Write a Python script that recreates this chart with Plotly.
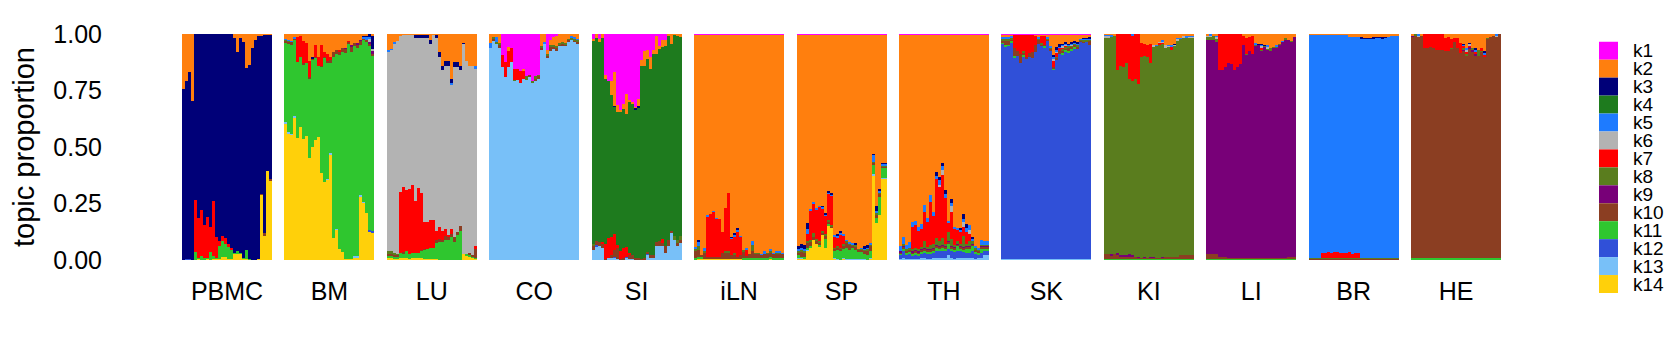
import plotly.graph_objects as go

# ---------------- data ----------------
tissues = ["PBMC", "BM", "LU", "CO", "SI", "iLN", "SP", "TH", "SK", "KI", "LI", "BR", "HE"]
topics = ["k1", "k2", "k3", "k4", "k5", "k6", "k7", "k8", "k9", "k10", "k11", "k12", "k13", "k14"]
topic_colors = ["#FF00FF", "#FF7F0E", "#000078", "#1E7B1E", "#1E7BFF", "#B3B3B3", "#FF0000",
                "#5A7D1E", "#780078", "#8B3E22", "#2FC62F", "#3050D8", "#78C0F8", "#FFD00A"]
n_samples = 30
dominant = {"PBMC": "k3", "BM": "k11", "LU": "k6", "CO": "k13", "SI": "k4", "iLN": "k2", "SP": "k2",
            "TH": "k2", "SK": "k12", "KI": "k8", "LI": "k9", "BR": "k5", "HE": "k10"}

# minor-topic proportions per sample (the dominant topic takes the remainder)
PBMC = {
    "k2": [.245, .21, .17, .296, 0, 0, 0, 0, 0, 0, 0, 0, 0, 0, 0, 0, 0, .017, .08, .017, .034, .15, .137, .06, .026, .005, .005, .003, .003, .003],
    "k7": [0, 0, 0, 0, .232, .175, .206, .145, .18, .112, .243, .093, .025, .025, .025, .015, .005, 0, 0, 0, 0, 0, 0, 0, 0, 0, 0, 0, 0, 0],
    "k10": [0, 0, 0, 0, 0, 0, 0, 0, 0, 0, 0, 0, 0, 0, 0, 0, 0, 0, 0, 0, 0, 0, 0, 0, 0, 0, .005, .013, 0, .01],
    "k11": [0, 0, 0, 0, .034, .005, .017, .005, .005, .034, .015, .005, .055, .07, .06, .055, .045, .005, .01, .005, .003, .04, .005, 0, 0, 0, 0, 0, 0, 0],
    "k12": [.002, .003, .003, 0, 0, 0, 0, 0, 0, 0, 0, 0, 0, 0, 0, 0, 0, 0, 0, 0, 0, 0, 0, 0, 0, 0, 0, 0, 0, 0],
    "k14": [0, 0, 0, 0, 0, .005, 0, .003, .005, 0, .003, .005, .005, .012, .012, .003, .003, .028, .028, .028, .005, .005, 0, 0, 0, .004, .288, .107, .395, .35],
}
BM = {
    "k2": [.02, .025, .03, .015, .015, .01, .03, .04, .12, .1, .05, .1, .05, .08, .09, .1, .08, .07, .07, .06, .06, .03, .05, .04, .04, .025, .005, .005, 0, .005],
    "k3": [0, 0, 0, 0, 0, 0, 0, 0, 0, .01, 0, 0, 0, 0, 0, 0, 0, 0, 0, 0, 0, 0, 0, 0, 0, 0, .005, .01, .015, .06],
    "k5": [.005, .003, .003, .003, 0, 0, 0, 0, 0, 0, 0, 0, 0, 0, 0, 0, 0, 0, 0, 0, 0, 0, 0, 0, 0, 0, .01, .01, .005, 0],
    "k6": [0, 0, 0, 0, 0, 0, 0, 0, 0, 0, 0, 0, 0, 0, 0, 0, 0, 0, 0, 0, 0, 0, 0, 0, 0, 0, 0, 0, .015, .01],
    "k7": [0, 0, 0, 0, .107, .09, .1, .09, .07, 0, .05, .04, .09, .02, .03, .015, 0, 0, .01, 0, 0, .005, 0, 0, 0, 0, 0, 0, 0, 0],
    "k8": [.005, .005, 0, 0, 0, 0, 0, 0, 0, 0, 0, 0, 0, 0, 0, 0, 0, 0, 0, 0, 0, 0, 0, 0, 0, 0, 0, 0, 0, 0],
    "k9": [0, 0, 0, 0, 0, 0, 0, 0, 0, 0, 0, 0, 0, 0, 0, 0, 0, 0, 0, 0, .005, 0, .005, 0, .005, .005, 0, 0, .01, .015],
    "k10": [.01, .01, .015, .01, 0, 0, .005, 0, .005, .005, .005, 0, .005, .005, .01, .015, .02, .02, .015, .02, .02, .005, .025, .015, .015, .02, .005, .01, .005, .005],
    "k12": [0, 0, 0, 0, 0, 0, 0, 0, 0, 0, 0, 0, 0, 0, 0, 0, 0, 0, 0, 0, 0, 0, 0, 0, 0, 0, 0, 0, .01, .01],
    "k13": [.004, .004, .003, .004, 0, 0, 0, 0, 0, 0, 0, 0, 0, 0, .004, .004, 0, .003, 0, 0, 0, 0, 0, .003, .003, .004, .004, 0, 0, 0],
    "k14": [.605, .561, .554, .631, .541, .588, .536, .549, .451, .498, .532, .545, .386, .343, .356, .468, .099, .133, .047, .034, .004, .004, .004, .013, .013, .283, .253, .206, .124, .12],
}
LU = {
    "k2": [.07, .065, .035, .03, .005, .002, .002, .002, .002, .002, .002, .002, .002, .002, .025, .002, .002, .08, .14, .12, .12, .2, .125, .125, .14, .04, .12, .14, .14, .14],
    "k3": [0, 0, 0, 0, 0, 0, 0, 0, 0, .015, .015, .015, .015, .015, .02, 0, .015, .02, .02, .02, .02, .015, .02, .02, .02, .002, 0, 0, 0, 0],
    "k5": [.008, .005, .005, 0, 0, 0, 0, 0, 0, 0, 0, 0, 0, 0, 0, 0, 0, 0, 0, 0, 0, .01, 0, 0, 0, 0, 0, 0, 0, .015],
    "k7": [0, 0, 0, 0, .27, .29, .27, .29, .3, .23, .29, .25, .12, .12, .12, .12, .04, .05, .04, .03, .01, .02, 0, 0, 0, 0, 0, 0, 0, .01],
    "k8": [.01, .01, .01, .005, 0, 0, 0, 0, 0, 0, 0, 0, 0, 0, 0, 0, 0, 0, 0, 0, 0, 0, 0, 0, 0, 0, 0, 0, 0, 0],
    "k10": [.01, .01, .01, .01, 0, .005, 0, 0, 0, 0, 0, .005, .005, 0, 0, 0, .015, .015, .01, .015, .01, .015, .02, .015, .02, 0, 0, .01, .005, .04],
    "k11": [.005, .005, .005, .005, .02, .02, .03, .02, .02, .02, .02, .03, .04, .045, .05, .05, .07, .08, .08, .09, .09, .1, .08, .11, .13, 0, .005, .005, .005, .005],
    "k13": [.003, .003, .003, .003, 0, 0, 0, 0, 0, 0, 0, 0, 0, 0, 0, 0, 0, 0, 0, 0, 0, 0, 0, 0, 0, 0, 0, 0, 0, 0],
    "k14": [.01, .01, .005, .005, .01, .01, .01, .005, .01, .01, .01, .01, .005, .005, .005, .005, .005, 0, 0, 0, 0, 0, 0, 0, 0, .025, .02, .015, .01, .005],
}
CO = {
    "k1": [0, 0, 0, 0, .094, .125, .056, .064, .155, .155, .163, .155, .185, .18, .206, .185, .18, 0, 0, .07, .025, .015, .01, 0, 0, 0, 0, 0, 0, 0],
    "k2": [.04, .015, .015, .04, 0, 0, .02, 0, 0, 0, 0, .01, 0, 0, 0, 0, 0, .055, .035, .02, .025, .035, .045, .04, .035, .04, .02, .01, .015, .02],
    "k5": [.02, 0, .02, 0, 0, 0, 0, 0, 0, 0, 0, 0, 0, 0, 0, 0, 0, 0, .01, 0, 0, 0, 0, 0, 0, 0, 0, .005, .005, .005],
    "k7": [0, 0, 0, 0, .05, .064, .07, .06, .047, .047, .055, .035, 0, 0, 0, 0, 0, 0, 0, 0, 0, 0, 0, 0, 0, 0, 0, 0, 0, 0],
    "k8": [0, .005, .005, .01, 0, 0, 0, 0, .005, 0, 0, 0, .02, 0, .01, .015, .005, .005, 0, .005, .005, .005, .005, .005, .005, .005, .005, .01, .01, .01],
    "k10": [0, .01, 0, .01, 0, 0, 0, 0, 0, 0, 0, 0, 0, .01, 0, .01, .015, .01, 0, .01, .02, .01, .015, .01, .015, .01, .01, 0, .005, .005],
}
SI = {
    "k1": [.02, 0, .02, 0, .18, .21, .206, .167, .313, .335, .309, .266, .292, .3, .322, .288, .116, .077, .069, .103, .07, .01, .051, .026, .026, 0, 0, 0, 0, 0],
    "k2": [.013, .017, .017, .017, .017, 0, .064, .15, .03, .01, .025, .086, .01, .01, .005, .03, .026, .064, .043, .05, .017, .077, .017, .03, .026, .008, .043, .003, .008, .013],
    "k3": [0, 0, 0, 0, 0, 0, 0, .005, 0, 0, 0, 0, 0, 0, .005, .008, 0, 0, 0, 0, 0, 0, 0, 0, 0, 0, 0, 0, 0, 0],
    "k7": [0, 0, 0, .01, .065, .086, .08, .07, .01, .034, .043, .043, .005, 0, 0, 0, 0, 0, 0, 0, 0, 0, 0, .017, 0, 0, 0, 0, 0, 0],
    "k8": [.01, 0, 0, 0, 0, 0, 0, 0, 0, 0, 0, 0, 0, 0, 0, 0, 0, 0, 0, 0, 0, 0, 0, 0, 0, 0, 0, .017, .015, .02],
    "k10": [.015, .02, .02, .015, .005, 0, .01, .03, .05, .005, .01, 0, .02, .015, .01, .01, .005, .01, .005, .01, .01, .02, .02, .01, .03, .025, .005, 0, .01, .01],
    "k12": [0, .005, 0, 0, 0, 0, 0, .005, 0, 0, 0, .005, 0, 0, 0, 0, 0, 0, .003, 0, 0, 0, 0, 0, 0, 0, .003, 0, 0, 0],
    "k13": [.045, .06, .06, .055, 0, .01, .01, .01, .005, 0, 0, .01, .005, .005, 0, 0, 0, 0, .026, .01, .01, .06, .064, .064, .03, .064, .12, .09, .064, .077],
}
iLN = {
    "k1": [.003] * 30,
    "k3": [0, .005, 0, 0, 0, 0, 0, 0, 0, 0, 0, 0, .005, .005, .01, 0, 0, 0, 0, 0, 0, 0, 0, 0, 0, 0, 0, 0, 0, 0],
    "k5": [.01, .02, 0, .015, .005, 0, .005, .005, 0, 0, 0, 0, .005, .01, .01, .005, 0, .005, 0, .015, 0, 0, .005, .01, 0, .005, .005, .005, .005, .005],
    "k7": [0, 0, 0, 0, .18, .19, .2, .17, .17, .09, .19, .26, .07, .07, .11, .08, 0, .03, 0, 0, 0, 0, 0, 0, 0, 0, 0, 0, 0, 0],
    "k8": [.01, .02, 0, .005, 0, 0, 0, 0, 0, 0, .005, .005, 0, .01, 0, 0, .005, 0, 0, .03, .005, .005, 0, 0, .005, .01, 0, .005, .005, 0],
    "k10": [.03, .03, .01, .03, .01, .01, .01, .01, .01, .03, .03, .03, .02, .02, .01, .02, .03, .01, .02, .03, .02, .02, .015, .02, .02, .02, .02, .02, .02, .02],
    "k11": [.005, .01, .01, 0, 0, 0, 0, 0, 0, 0, 0, 0, 0, 0, 0, 0, .005, .005, .005, .005, .005, .005, .005, .005, .005, .01, .005, .005, .005, .005],
    "k14": [.003] * 30,
}
SP = {
    "k1": [.003] * 30,
    "k3": [.013, .015, .015, .03, 0, 0, 0, 0, .005, .01, .005, .005, 0, .01, .01, 0, 0, 0, 0, .01, 0, 0, .01, .01, 0, .005, .02, .01, .005, .005],
    "k5": [.01, .01, .01, .02, .005, .005, .005, .005, .005, .005, .005, .005, .005, .005, .005, .005, .005, .005, .005, 0, 0, .005, .005, .005, .005, .03, .01, .005, .005, .005],
    "k7": [0, 0, 0, .03, .13, .13, .13, .15, .1, .08, .12, .13, .05, .04, .06, .04, 0, 0, 0, 0, 0, 0, 0, 0, 0, 0, 0, 0, 0, 0],
    "k8": [.01, .01, .01, .01, .01, .02, .01, .01, .01, .01, .005, .005, .005, .005, .005, .01, .01, .01, .005, .005, .005, .005, .005, .01, .01, .005, .01, .01, .005, .005],
    "k10": [.01, .02, .015, .02, .02, .01, .015, .01, .01, .01, .01, .01, .01, .01, .01, .01, .02, .02, .01, .015, .01, .01, .015, .02, .02, .01, .01, .01, .01, .01],
    "k11": [.01, .005, .01, .01, .005, 0, 0, .005, 0, .04, .01, 0, .03, .04, .04, .04, .05, .04, .05, .04, .03, .03, .02, .02, .03, .04, .025, .08, .04, .04],
    "k13": [.005, .005, 0, .005, 0, 0, 0, 0, 0, 0, 0, 0, .005, .005, 0, .005, .005, .005, .005, .005, .005, .005, .005, 0, .005, .01, 0, 0, .005, .005],
    "k14": [.005, .005, .005, .04, .055, .09, .07, .06, .11, .055, .15, .14, .005, 0, 0, .005, 0, 0, 0, 0, 0, 0, 0, 0, .005, .37, .163, .2, .36, .36],
}
TH = {
    "k1": [.003] * 30,
    "k3": [0, 0, 0, 0, 0, 0, 0, 0, 0, 0, 0, 0, .015, .015, .01, .015, 0, .015, 0, 0, .01, .02, .015, 0, .01, 0, 0, 0, 0, 0],
    "k5": [.025, .03, .02, .025, .02, .02, .02, .02, .03, .02, .03, .02, .015, .02, .02, .02, .01, .015, .01, .01, .01, .015, .02, .02, .01, .01, .005, .02, .015, .015],
    "k6": [0, 0, 0, 0, 0, 0, 0, 0, 0, 0, 0, 0, 0, .01, .02, 0, 0, .025, 0, 0, 0, .02, 0, .02, 0, 0, 0, 0, 0, 0],
    "k7": [0, 0, 0, 0, .1, .1, .08, .08, .13, .11, .19, .12, .26, .24, .28, .2, .04, .12, .07, .05, .05, .04, .05, .03, 0, 0, 0, 0, 0, 0],
    "k8": [0, .01, .005, .005, .01, .01, .01, .01, .03, .01, .02, .02, .03, .02, .03, .01, .04, .03, .01, .01, .01, .05, .01, .02, .01, .005, .005, .005, .005, .005],
    "k9": [.003] * 30,
    "k10": [.005, .01, .01, .01, .01, .01, .01, .01, .01, .01, .01, .01, .01, .01, .01, .01, .01, .01, .01, .01, .01, .01, .01, .01, .01, .01, .01, .01, .01, .01],
    "k11": [.005, .01, .005, .01, .005, .005, .005, .01, .01, .01, .01, .01, .015, .01, .015, .01, .02, .01, .01, .02, .01, .01, .02, .02, .02, .01, .01, .02, .01, .01],
    "k12": [.02, .03, .02, .02, .015, .02, .015, .015, .02, .02, .02, .02, .03, .03, .03, .03, .03, .03, .03, .03, .03, .025, .02, .02, .03, .02, .01, .02, .02, .02],
    "k13": [.005, .01, .005, .005, .005, .005, .005, .01, .01, .005, .005, .01, .01, .01, .01, .01, .02, .01, .005, .01, .01, .01, .01, .01, .01, .005, .01, .01, .02, .02],
}
SK = {
    "k1": [.003] * 30,
    "k2": [.01, .01, .01, .005, 0, 0, 0, 0, 0, 0, 0, .005, .01, .005, .005, .01, .05, .09, .055, .043, .04, .034, .04, .034, .03, .034, .017, .013, .013, .01],
    "k3": [0, 0, 0, 0, 0, 0, 0, 0, 0, 0, 0, 0, 0, 0, 0, 0, 0, .01, .013, .008, .005, .005, .005, .005, .005, .005, 0, .005, .005, .005],
    "k5": [.01, .01, .01, .01, 0, 0, 0, 0, 0, 0, 0, 0, .005, 0, 0, .005, .005, .005, .005, .01, .005, .005, .005, .005, .005, .005, .005, .005, .005, .005],
    "k6": [0, 0, 0, 0, 0, 0, 0, 0, 0, 0, 0, 0, 0, 0, 0, 0, 0, .01, .01, 0, .005, .005, 0, .005, 0, 0, 0, 0, 0, 0],
    "k7": [0, 0, 0, 0, .06, .07, .086, .07, .1, .08, .077, .04, 0, .03, .04, 0, 0, .03, .015, .013, .01, .005, 0, 0, 0, 0, 0, 0, 0, 0],
    "k8": [.005, .01, .005, .005, 0, 0, 0, .01, 0, 0, 0, 0, .005, .01, 0, .005, .005, 0, .005, 0, .005, .005, .01, .005, .005, .01, .005, .005, .005, .005],
    "k10": [.01, .015, .02, .01, .034, .026, .04, .01, .005, .02, .026, .03, .02, .005, .005, .01, .01, .005, .01, .01, .01, .01, .01, .01, .01, .01, .005, .005, 0, .02],
    "k11": [.005, .01, .005, .005, .005, 0, 0, .01, 0, 0, 0, 0, 0, 0, .01, 0, 0, .005, 0, 0, .01, .005, .01, .005, .005, 0, 0, 0, 0, 0],
    "k13": [.003] * 30,
}
KI = {
    "k2": [.002, .002, .002, .005, 0, 0, 0, 0, 0, 0, 0, 0, .04, .043, .05, .043, .047, .047, .034, .026, .047, .047, .05, .043, .017, .017, .01, .01, .005, .005],
    "k3": [0, 0, 0, 0, 0, 0, 0, 0, 0, 0, 0, 0, 0, 0, 0, 0, 0, 0, 0, 0, 0, 0, 0, .005, 0, 0, 0, 0, 0, 0],
    "k5": [.005, .005, .01, 0, 0, 0, 0, 0, 0, .008, 0, 0, 0, 0, 0, 0, 0, .005, 0, .005, 0, .005, .005, 0, .005, .005, 0, .005, .005, .005],
    "k6": [.01, .01, 0, 0, 0, 0, 0, 0, 0, 0, 0, 0, 0, 0, 0, 0, .01, 0, .005, .005, .013, .005, 0, .005, .005, 0, .005, 0, .005, .005],
    "k7": [0, 0, 0, 0, .16, .14, .145, .13, .2, .2, .2, .22, .06, .055, .05, .086, 0, 0, .01, .01, 0, 0, .014, 0, 0, 0, 0, 0, 0, 0],
    "k9": [0, 0, .005, 0, .005, .005, .005, .005, .01, .005, 0, .005, 0, .005, 0, .005, .005, 0, 0, .005, 0, 0, 0, 0, 0, 0, 0, 0, 0, 0],
    "k10": [.02, .02, .015, .02, .02, .01, .01, .01, .01, .01, .01, .005, .005, .005, .005, .005, .005, .005, .005, .005, .01, .01, .01, .01, .01, .015, .015, .015, .015, .015],
    "k11": [.003] * 30,
    "k13": [.002] * 30,
}
LI = {
    "k2": [.005, 0, .005, .005, 0, 0, 0, 0, 0, 0, 0, 0, .005, .017, .013, .01, .04, .043, .043, .047, .05, .06, .056, .05, .043, .03, .017, .026, .03, .013],
    "k3": [0, 0, 0, 0, 0, 0, 0, 0, 0, 0, 0, 0, 0, 0, 0, 0, 0, .005, .005, .005, 0, 0, 0, 0, 0, 0, 0, 0, 0, 0],
    "k5": [0, .005, 0, .005, 0, 0, 0, 0, 0, 0, 0, 0, 0, 0, 0, 0, .005, 0, .005, 0, .005, 0, 0, .005, 0, .005, 0, 0, 0, 0],
    "k6": [.005, .01, 0, .01, 0, 0, 0, 0, 0, 0, 0, 0, 0, 0, 0, 0, 0, 0, .01, 0, .008, 0, 0, 0, 0, 0, 0, 0, 0, 0],
    "k7": [0, 0, 0, 0, .16, .16, .146, .129, .133, .16, .146, .133, .043, .07, .06, .077, 0, 0, .005, 0, 0, 0, 0, 0, 0, 0, 0, 0, 0, 0],
    "k8": [.015, .01, .02, .015, 0, 0, 0, 0, 0, 0, 0, 0, 0, .005, 0, 0, .005, 0, .005, .005, .005, .013, .005, .005, .005, 0, .008, 0, .005, 0],
    "k10": [.02, .02, .02, .02, .01, .01, .01, .005, .005, .005, .005, .005, .005, .005, .005, .005, .005, .005, .005, .005, .005, .005, .005, .005, .005, .005, .005, .01, .01, .01],
    "k11": [.003] * 30,
    "k13": [.002] * 30,
}
BR = {
    "k2": [.003, .003, .003, .003, .003, .003, .003, .003, .003, .003, .003, .003, .003, .012, .015, .012, .012, .015, .017, .017, .017, .015, .012, .012, .015, .012, .012, .01, .01, .005],
    "k3": [0, 0, 0, 0, 0, 0, 0, 0, 0, 0, 0, 0, 0, 0, 0, 0, 0, .003, .003, .003, .003, .003, .003, .003, .003, .003, 0, 0, 0, 0],
    "k7": [0, 0, 0, 0, .02, .02, .025, .02, .025, .025, .02, .02, .02, .025, .015, .02, .02, 0, 0, 0, 0, 0, 0, 0, 0, 0, 0, 0, 0, 0],
    "k8": [.003] * 30,
    "k10": [.005] * 30,
    "k11": [.003] * 30,
}
HE = {
    "k2": [.005, 0, 0, .01, 0, 0, 0, 0, 0, 0, 0, .017, .013, .021, .017, .017, .039, .043, .06, .039, .064, .06, .069, .064, .073, .017, .013, .009, 0, 0],
    "k3": [0, 0, 0, 0, 0, 0, 0, 0, 0, 0, 0, 0, 0, 0, 0, 0, 0, .005, 0, .005, 0, .01, 0, 0, .01, 0, 0, 0, 0, 0],
    "k5": [0, 0, .005, 0, 0, 0, 0, 0, 0, 0, 0, 0, 0, 0, 0, 0, 0, .005, .01, 0, 0, .01, 0, 0, .01, 0, 0, 0, .005, 0],
    "k6": [0, 0, .005, 0, 0, 0, 0, 0, 0, 0, 0, 0, 0, 0, 0, 0, 0, 0, .01, .005, 0, 0, 0, 0, 0, 0, 0, 0, .005, 0],
    "k7": [0, 0, 0, 0, .06, .06, .056, .06, .07, .07, .07, .056, .06, .04, .017, .047, .047, .01, .01, .01, 0, .01, 0, .01, .01, 0, 0, 0, 0, 0],
    "k8": [0, .01, 0, 0, 0, 0, 0, 0, 0, 0, 0, 0, 0, .005, 0, 0, 0, .005, .005, 0, .005, 0, .03, .005, 0, .005, 0, 0, 0, 0],
    "k9": [.01, 0, 0, 0, 0, 0, 0, 0, 0, 0, 0, 0, 0, 0, 0, 0, 0, .005, 0, .005, .008, .005, 0, 0, 0, 0, 0, 0, 0, 0],
    "k11": [.005] * 30,
    "k14": [.003] * 30,
}
minor = {"PBMC": PBMC, "BM": BM, "LU": LU, "CO": CO, "SI": SI, "iLN": iLN, "SP": SP,
         "TH": TH, "SK": SK, "KI": KI, "LI": LI, "BR": BR, "HE": HE}

# ---------------- build proportions ----------------
props = {}
for t in tissues:
    comp = {k: list(v) for k, v in minor[t].items()}
    dom = [max(0.0, 1.0 - sum(comp[k][j] for k in comp)) for j in range(n_samples)]
    comp[dominant[t]] = dom
    props[t] = comp

# ---------------- layout geometry (px, target positions minus page margin) ----------------
W, H = 1680, 360
off = 8
plot_l, plot_r, plot_t, plot_b = 103 - off, 1501 - off, 27 - off, 260 - off
bar_px = 3.0
panel_pitch = 102.42 / bar_px      # in bar units
first_bar_left = 182 - off
x_min = -0.5 - (first_bar_left - plot_l) / bar_px
x_max = x_min + (plot_r - plot_l) / bar_px

xs = []
for i, t in enumerate(tissues):
    xs += [i * panel_pitch + j for j in range(n_samples)]

fig = go.Figure()
for k, col in reversed(list(zip(topics, topic_colors))):
    ys = []
    for t in tissues:
        ys += props[t].get(k, [0.0] * n_samples)
    fig.add_trace(go.Bar(x=xs, y=ys, name=k, marker=dict(color=col, line=dict(width=0)),
                         showlegend=False))

font_family = "Liberation Sans, Arial, Helvetica, sans-serif"
centers = [i * panel_pitch + (n_samples - 1) / 2 for i in range(len(tissues))]

fig.update_layout(
    width=W, height=H, barmode="stack", bargap=0,
    paper_bgcolor="white", plot_bgcolor="white",
    margin=dict(l=plot_l, r=W - plot_r, t=plot_t, b=H - plot_b),
    font=dict(family=font_family, color="black"),
    xaxis=dict(range=[x_min, x_max], tickvals=centers, ticktext=tissues, showgrid=False,
               zeroline=False, showline=False, ticks="", tickfont=dict(size=25),
               ticklabelstandoff=14),
    yaxis=dict(range=[0, 1], tickvals=[0, .25, .5, .75, 1],
               ticktext=["0.00", "0.25", "0.50", "0.75", "1.00"], showgrid=False,
               zeroline=False, showline=False, ticks="", tickfont=dict(size=25),
               title=dict(text="topic proportion", font=dict(size=29), standoff=10)),
)

# manual legend
pw = plot_r - plot_l
ph = plot_b - plot_t
def px_x(p):
    return (p - off - plot_l) / pw
def px_y(p):
    return 1 - (p - off - plot_t) / ph

step = 18.5
for i, (k, col) in enumerate(zip(topics, topic_colors)):
    y0 = 35 + step * i
    y1 = y0 + step
    fig.add_shape(type="rect", xref="paper", yref="paper", x0=px_x(1599), x1=px_x(1618),
                  y0=px_y(y1), y1=px_y(y0), fillcolor=col, line=dict(width=0))
    fig.add_annotation(xref="paper", yref="paper", x=px_x(1631), y=px_y((y0 + y1) / 2),
                       text=k, showarrow=False, xanchor="left", yanchor="middle",
                       font=dict(size=19, color="black"))

fig.write_html("out.html")
